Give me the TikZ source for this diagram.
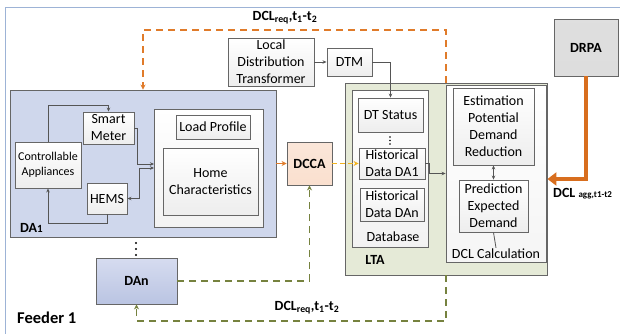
\documentclass[tikz,border=0pt]{standalone}
\usepackage{fontspec}
\setmainfont{Carlito}
\usetikzlibrary{arrows.meta}
\definecolor{framec}{HTML}{9DB3D6}
\definecolor{boxgray}{HTML}{666666}
\definecolor{linegray}{HTML}{555555}
\definecolor{daone}{HTML}{CFD7EC}
\definecolor{dantop}{HTML}{D6DCF0}
\definecolor{danbot}{HTML}{BAC4E2}
\definecolor{ltaf}{HTML}{E5EAD7}
\definecolor{dccaf}{HTML}{F9DCC9}
\definecolor{drpaf}{HTML}{C9C9C9}
\definecolor{orangeD}{HTML}{E07B2A}
\definecolor{orangeT}{HTML}{D86E1E}
\definecolor{greenD}{HTML}{76823F}
\definecolor{yellowD}{HTML}{F2B31E}
\begin{document}
\begin{tikzpicture}[x=1pt,y=-1pt,
  bx/.style={draw=boxgray, line width=0.9pt, inner sep=1pt, align=center,
    font=\fontsize{14}{17}\selectfont, top color=white, bottom color=gray!14},
  plain/.style={draw=boxgray, line width=0.9pt, inner sep=0pt},
  lbl/.style={inner sep=1pt, align=center, font=\fontsize{14}{17}\selectfont},
  blbl/.style={inner sep=1pt, font=\fontsize{14}{17}\selectfont\bfseries},
  conn/.style={draw=linegray, line width=0.8pt},
  arr/.style={conn, -{Stealth[length=4pt,width=3.5pt]}},
  darr/.style={conn, {Stealth[length=4pt,width=3.5pt]}-{Stealth[length=4pt,width=3.5pt]}},
  odash/.style={draw=orangeD, line width=1.3pt, dash pattern=on 7pt off 5pt, -{Stealth[length=5pt,width=5pt]}},
  gdash/.style={draw=greenD, line width=1.3pt, dash pattern=on 7pt off 5pt, -{Stealth[length=5pt,width=5pt]}},
  ydash/.style={draw=yellowD, line width=1.2pt, dash pattern=on 5pt off 3pt, -{Stealth[length=5pt,width=5pt]}},
]
\useasboundingbox (0,0) rectangle (620,333);
% outer frame
\draw[framec, line width=0.8pt] (5,345) -- (5,7) -- (630,7);

% DA1 area
\node[plain, fill=daone, minimum width=266pt, minimum height=147pt] (DA1) at (143,163.5) {};
\node[plain, top color=white, bottom color=gray!10, minimum width=109pt, minimum height=118pt] (HC) at (208.5,168) {};
\node[bx, minimum width=51pt, minimum height=32pt] (SM) at (108.5,128) {Smart\\Meter};
\node[bx, minimum width=66pt, minimum height=46pt, font=\fontsize{12}{14.5}\selectfont] (CA) at (48,165) {Controllable\\Appliances};
\node[bx, minimum width=40pt, minimum height=31pt] (HEMS) at (107,198.5) {HEMS};
\node[bx, minimum width=74pt, minimum height=24pt] (LP) at (213,127) {Load Profile};
\node[bx, minimum width=95pt, minimum height=67pt] (HCh) at (210.5,181.5) {Home\\Characteristics};
\node[blbl, anchor=west] (DA1l) at (19,228) {DA{\fontsize{11}{13}\selectfont 1}};

% DAn
\node[bx, top color=dantop, bottom color=danbot, font=\fontsize{14}{17}\selectfont\bfseries, minimum width=81pt, minimum height=46pt] (DAn) at (136.5,281) {DAn};
\fill[black] (136,243) circle (1.2) (136,249) circle (1.2) (136,255) circle (1.2);

% DCCA
\node[bx, top color=dccaf!70, bottom color=dccaf!100!orange!90, font=\fontsize{14}{17}\selectfont\bfseries, minimum width=45pt, minimum height=43pt] (DCCA) at (309.5,163.5) {DCCA};

% transformer and DTM
\node[bx, minimum width=86pt, minimum height=48pt] (LDT) at (271,62) {Local\\Distribution\\Transformer};
\node[bx, minimum width=45pt, minimum height=28pt] (DTM) at (349.5,62) {DTM};

% LTA
\node[plain, fill=ltaf, minimum width=202pt, minimum height=192pt] (LTA) at (446,179) {};
\node[plain, top color=white, bottom color=gray!10, minimum width=76pt, minimum height=157pt] (DB) at (390,168.5) {};
\node[bx, minimum width=65pt, minimum height=34pt] (DTS) at (390.5,115) {DT Status};
\fill[black] (390,137) circle (0.8) (390,140.5) circle (0.8) (390,144) circle (0.8);
\node[bx, minimum width=66pt, minimum height=31pt, inner sep=0pt] (HD1) at (392,163.5) {Historical\\Data DA1};
\node[bx, minimum width=64pt, minimum height=33pt, inner sep=0pt] (HDn) at (392,204.5) {Historical\\Data DAn};
\node[lbl] (DBl) at (393,237) {Database};
\node[blbl] (LTAl) at (375,260) {LTA};

\node[plain, top color=white, bottom color=gray!8, minimum width=100pt, minimum height=177pt] (DCLc) at (496,173.5) {};
\node[bx, minimum width=81pt, minimum height=77pt] (EST) at (493.5,126.5) {Estimation\\Potential\\Demand\\Reduction};
\node[bx, minimum width=69pt, minimum height=52pt] (PRED) at (493.5,206) {Prediction\\Expected\\Demand};
\node[lbl] (DCLl) at (496,254) {DCL Calculation};

% DRPA
\node[bx, top color=drpaf!60, bottom color=drpaf!110!black, font=\fontsize{14}{17}\selectfont\bfseries, minimum width=64pt, minimum height=57pt] (DRPA) at (586,47.5) {DRPA};

% labels
\node[blbl, font=\fontsize{16.5}{19}\selectfont\bfseries, anchor=west] (F1) at (16,318) {Feeder 1};
\node[blbl] (Ltop) at (285,18) {DCL\textsubscript{req},t\textsubscript{1}-t\textsubscript{2}};
\node[blbl] (Lbot) at (307,308) {DCL\textsubscript{req},t\textsubscript{1}-t\textsubscript{2}};
\node[blbl, anchor=west] (Lagg) at (552,194) {DCL {\fontsize{9}{11}\selectfont agg,t1-t2}};

% connectors inside DA1
\draw[arr] (CA.north) -- (48,105) -| (SM.north);
\coordinate (hcin1) at (154,164);
\coordinate (hcin2) at (154,168);
\draw[arr] (SM.east) -- (137,128) |- (hcin1);
\draw[darr] (HEMS.east) -- (139.5,198.5) |- (hcin2);
\draw[arr] (HEMS.south) -- (107,223) -| (CA.south);

% main flow
\draw[draw=orangeD, line width=1pt, -{Stealth[length=5pt,width=5pt]}] (DA1.east) -- (DCCA.west);
\draw[ydash] (DCCA.east) -- (HD1.west);
\draw[arr] (LDT.east) -- (DTM.west);
\draw[arr] (DTM.east) -| (DTS.north);
\draw[arr] (HD1.east) -- (429,163.5) |- (DCLc.west);
\draw[darr] (EST.south) -- (PRED.north);
\draw[conn] (PRED.south) -- (DCLl.north);

% dashed feedback
\coordinate (otop) at (446,30);
\draw[odash] (LTA.north) -- (otop) -| (DA1.north);
\draw[gdash] (DAn.east) -| (DCCA.south);
\coordinate (gbot) at (446,321);
\draw[gdash] (LTA.south) -- (gbot) -| (DAn.south);

% DRPA thick arrow
\draw[draw=orangeT, line width=3.5pt, -{Triangle[length=9pt,width=13pt]}] (DRPA.south) |- (LTA.east);
\end{tikzpicture}
\end{document}
